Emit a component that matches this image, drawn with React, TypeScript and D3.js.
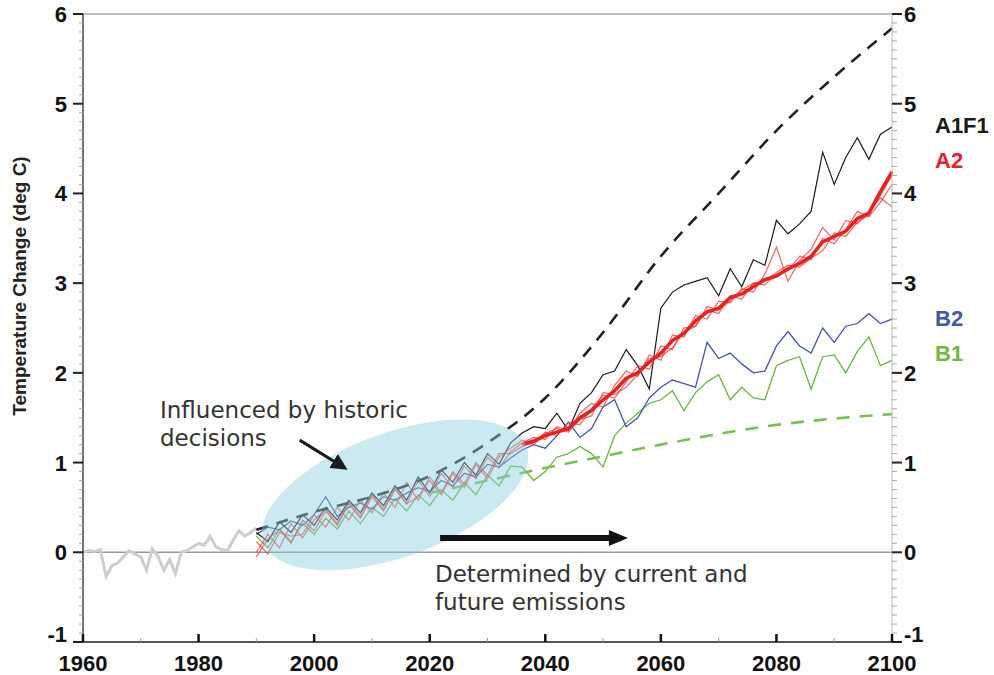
import React from 'react';
import * as d3 from 'd3';

// model years, every 2 years
const years = [
  1990, 1992, 1994, 1996, 1998, 2000, 2002, 2004, 2006, 2008, 2010, 2012, 2014, 2016,
  2018, 2020, 2022, 2024, 2026, 2028, 2030, 2032, 2034, 2036, 2038, 2040, 2042, 2044,
  2046, 2048, 2050, 2052, 2054, 2056, 2058, 2060, 2062, 2064, 2066, 2068, 2070, 2072,
  2074, 2076, 2078, 2080, 2082, 2084, 2086, 2088, 2090, 2092, 2094, 2096, 2098, 2100,
];

// observed record (grey)
const histYears = [
  1960, 1961, 1962, 1963, 1964, 1965, 1966, 1967, 1968, 1969, 1970, 1971, 1972, 1973, 1974, 1975,
  1976, 1977, 1978, 1979, 1980, 1981, 1982, 1983, 1984, 1985, 1986, 1987, 1988, 1989, 1990,
];
const histTemp = [
  0.0, 0.02, 0.01, 0.03, -0.27, -0.15, -0.12, -0.05, 0.02, -0.02, -0.05, -0.2, 0.04, -0.05, -0.2, -0.08,
  -0.24, 0.0, 0.02, 0.06, 0.1, 0.08, 0.18, 0.06, 0.03, 0.02, 0.14, 0.24, 0.18, 0.22, 0.27,
];

const a1f1 = [
  0.22, 0.12, 0.34, 0.22, 0.42, 0.30, 0.50, 0.36, 0.58, 0.44, 0.66, 0.52, 0.74, 0.58, 0.84, 0.66,
  0.92, 0.78, 1.00, 0.86, 1.10, 0.98, 1.22, 1.33, 1.40, 1.38, 1.55, 1.36, 1.66, 1.78, 1.98, 2.02,
  2.26, 2.08, 1.82, 2.72, 2.90, 2.98, 3.02, 3.06, 2.86, 3.16, 2.96, 3.26, 3.20, 3.70, 3.55, 3.66,
  3.80, 4.46, 4.10, 4.40, 4.62, 4.38, 4.66, 4.74,
];

const a2RunA = [
  -0.05, 0.15, 0.25, 0.10, 0.36, 0.24, 0.46, 0.30, 0.54, 0.38, 0.62, 0.46, 0.70, 0.54, 0.80, 0.62,
  0.88, 0.72, 0.96, 0.82, 1.06, 0.94, 1.12, 1.22, 1.28, 1.26, 1.40, 1.36, 1.55, 1.66, 1.62, 1.86,
  2.02, 1.96, 2.20, 2.14, 2.42, 2.40, 2.64, 2.60, 2.80, 2.78, 2.94, 2.90, 3.10, 3.40, 3.02, 3.25,
  3.38, 3.62, 3.48, 3.70, 3.66, 3.80, 3.95, 3.85,
];
const a2RunB = [
  0.12, -0.02, 0.22, 0.18, 0.20, 0.42, 0.28, 0.50, 0.36, 0.58, 0.44, 0.66, 0.50, 0.78, 0.58, 0.84,
  0.66, 0.90, 0.76, 1.00, 0.86, 1.10, 1.10, 1.18, 1.22, 1.34, 1.30, 1.45, 1.42, 1.60, 1.75, 1.72,
  1.90, 2.08, 2.04, 2.30, 2.26, 2.50, 2.52, 2.70, 2.66, 2.86, 2.82, 3.00, 3.02, 3.12, 3.20, 3.18,
  3.28, 3.36, 3.56, 3.52, 3.68, 3.76, 3.98, 4.20,
];
const a2RunC = [
  0.00, 0.20, 0.05, 0.32, 0.16, 0.36, 0.48, 0.32, 0.56, 0.40, 0.64, 0.48, 0.72, 0.54, 0.62, 0.80,
  0.64, 0.88, 0.72, 0.98, 0.82, 1.06, 1.16, 1.25, 1.20, 1.32, 1.38, 1.34, 1.48, 1.52, 1.78, 1.76,
  1.84, 1.98, 2.16, 2.18, 2.28, 2.46, 2.52, 2.74, 2.70, 2.80, 2.92, 3.00, 2.98, 3.10, 3.14, 3.30,
  3.26, 3.50, 3.44, 3.60, 3.80, 3.74, 3.90, 4.10,
];
// A2 ensemble mean, from 2036
const a2Mean = [
  1.20, 1.24, 1.30, 1.34, 1.38, 1.50, 1.58, 1.70, 1.80, 1.94, 2.00, 2.12, 2.22, 2.36, 2.44, 2.58,
  2.68, 2.72, 2.84, 2.88, 2.96, 3.04, 3.08, 3.16, 3.22, 3.30, 3.46, 3.52, 3.58, 3.72, 3.78, 4.02,
  4.24,
];

const b2 = [
  0.20, 0.28, 0.25, 0.35, 0.30, 0.42, 0.62, 0.40, 0.50, 0.55, 0.48, 0.62, 0.58, 0.66, 0.72, 0.68,
  0.80, 0.74, 0.88, 0.84, 0.98, 0.95, 1.05, 1.14, 1.20, 1.16, 1.30, 1.45, 1.28, 1.38, 1.62, 1.70,
  1.40, 1.50, 1.72, 1.84, 1.92, 1.88, 1.84, 2.34, 2.16, 2.22, 2.10, 2.00, 2.02, 2.30, 2.46, 2.30,
  2.22, 2.50, 2.34, 2.52, 2.55, 2.66, 2.55, 2.60,
];
const b1 = [
  0.18, 0.05, 0.26, 0.12, 0.32, 0.20, 0.38, 0.26, 0.46, 0.32, 0.50, 0.40, 0.60, 0.46, 0.64, 0.52,
  0.70, 0.58, 0.78, 0.64, 0.86, 0.74, 0.96, 0.95, 0.80, 0.90, 1.06, 1.10, 1.18, 1.10, 0.95, 1.30,
  1.44, 1.55, 1.66, 1.70, 1.80, 1.58, 1.78, 1.90, 1.98, 1.70, 1.84, 1.72, 1.70, 2.08, 2.14, 2.18,
  1.82, 2.18, 2.20, 2.00, 2.24, 2.40, 2.08, 2.14,
];

// smooth envelope curves (dashed)
const upperYears = [1990, 2000, 2010, 2020, 2030, 2040, 2050, 2060, 2070, 2080, 2090, 2100];
const upperDashed = [0.25, 0.45, 0.62, 0.85, 1.22, 1.72, 2.45, 3.3, 4.0, 4.7, 5.3, 5.84];
const lowerYears = [2020, 2030, 2040, 2050, 2060, 2070, 2080, 2090, 2100];
const lowerDashed = [0.66, 0.8, 0.94, 1.07, 1.2, 1.32, 1.42, 1.49, 1.54];

const yTicks = [-1, 0, 1, 2, 3, 4, 5, 6];
const xTicks = [1960, 1980, 2000, 2020, 2040, 2060, 2080, 2100];
const scenarioLabels = ['A1F1', 'A2', 'B2', 'B1'];

const W = 994;
const H = 675;

export default function App() {
  const x = d3.scaleLinear().domain([1960, 2100]).range([83, 892]);
  const y = d3.scaleLinear().domain([-1, 6]).range([642, 14]);

  const line = (xs: number[], ys: number[]) =>
    d3.line<number>().x((_, i) => x(xs[i])).y((d) => y(d))(ys) || '';
  const smooth = (xs: number[], ys: number[]) =>
    d3.line<number>().x((_, i) => x(xs[i])).y((d) => y(d)).curve(d3.curveMonotoneX)(ys) || '';

  const meanYears = years.filter((yr) => yr >= 2036);
  const minorY = d3.range(-10, 61).map((v) => v / 10).filter((v) => Math.abs(v - Math.round(v)) > 0.01);
  const minorX = [1970, 1990, 2010, 2030, 2050, 2070, 2090];

  const labelFont = { fontFamily: 'Liberation Sans, Arial, sans-serif', fontWeight: 700, fontSize: 22 };
  const noteFont = { fontFamily: 'DejaVu Sans, Verdana, sans-serif', fontSize: 23, fill: '#333' };
  const labelColors = ['#1a1a1a', '#e8202a', '#4656a8', '#72b843'];
  const labelVals = [4.76, 4.37, 2.61, 2.22];

  const ex = x(2014);
  const ey = y(0.64);

  return (
    <svg width={W} height={H} style={{ position: 'absolute', left: 0, top: 0, background: '#fff' }}>
      <defs>
        <marker id="head" viewBox="0 0 10 10" refX="8" refY="5" markerWidth="5.5" markerHeight="5.5" orient="auto">
          <path d="M0,0 L10,5 L0,10 z" fill="#1a1a1a" />
        </marker>
      </defs>

      {/* frame */}
      <line x1={x(1960)} x2={x(2100)} y1={y(6)} y2={y(6)} stroke="#aaa" strokeWidth={1.5} />
      <line x1={x(1960)} x2={x(2100)} y1={y(0)} y2={y(0)} stroke="#9a9a9a" strokeWidth={1.5} />

      {/* historic record */}
      <path d={line(histYears, histTemp)} fill="none" stroke="#cdcdcd" strokeWidth={3} />

      {/* scenario runs */}
      <path d={line(years, b1)} fill="none" stroke="#6cb640" strokeWidth={1.3} />
      <path d={line(years, b2)} fill="none" stroke="#4656a8" strokeWidth={1.3} />
      <path d={line(years, a1f1)} fill="none" stroke="#1a1a1a" strokeWidth={1.2} />
      {[a2RunA, a2RunB, a2RunC].map((run, i) => (
        <path key={i} d={line(years, run)} fill="none" stroke="#ec3030" strokeOpacity={0.75} strokeWidth={1.2} />
      ))}
      <path d={line(meanYears, a2Mean)} fill="none" stroke="#e8201e" strokeWidth={3.5} strokeLinejoin="round" />

      {/* envelopes */}
      <path d={smooth(upperYears, upperDashed)} fill="none" stroke="#222" strokeWidth={2.6} strokeDasharray="12 9" />
      <path d={smooth(lowerYears, lowerDashed)} fill="none" stroke="#78c050" strokeWidth={2.6} strokeDasharray="13 10" />

      {/* historic decisions ellipse */}
      <ellipse cx={ex} cy={ey} rx={140} ry={62} transform={`rotate(-20 ${ex} ${ey})`} fill="#8ccfe0" fillOpacity={0.45} />

      {/* axes */}
      <line x1={x(1960)} x2={x(1960)} y1={y(6)} y2={y(-1)} stroke="#444" strokeWidth={1.5} />
      <line x1={x(2100)} x2={x(2100)} y1={y(6)} y2={y(-1)} stroke="#bbb" strokeWidth={1} />
      <line x1={x(1960) - 2} x2={x(2100) + 1} y1={y(-1)} y2={y(-1)} stroke="#555" strokeWidth={2} />

      {minorY.map((v) => (
        <g key={v}>
          <line x1={x(1960) - 4} x2={x(1960)} y1={y(v)} y2={y(v)} stroke="#aaa" strokeWidth={1} />
          <line x1={x(2100)} x2={x(2100) + 5} y1={y(v)} y2={y(v)} stroke="#aaa" strokeWidth={1} />
        </g>
      ))}
      {yTicks.map((v) => (
        <g key={v} style={labelFont}>
          <line x1={x(1960) - 10} x2={x(1960)} y1={y(v)} y2={y(v)} stroke="#222" strokeWidth={2} />
          <line x1={x(2100)} x2={x(2100) + 10} y1={y(v)} y2={y(v)} stroke="#222" strokeWidth={2} />
          <text x={x(1960) - 16} y={y(v) + (v === -1 ? 0 : 8)} textAnchor="end" fill="#111">{v}</text>
          <text x={x(2100) + 12} y={y(v) + (v === -1 ? 0 : 8)} fill="#111">{v}</text>
        </g>
      ))}
      {minorX.map((v) => (
        <line key={v} x1={x(v)} x2={x(v)} y1={y(-1)} y2={y(-1) - 4} stroke="#999" strokeWidth={1} />
      ))}
      {xTicks.map((v) => (
        <g key={v} style={labelFont}>
          <line x1={x(v)} x2={x(v)} y1={y(-1)} y2={y(-1) - 8} stroke="#111" strokeWidth={2.5} />
          <text x={x(v)} y={671} textAnchor="middle" fill="#111">{v}</text>
        </g>
      ))}

      <text
        transform={`translate(26, 286) rotate(-90)`}
        textAnchor="middle"
        style={{ fontFamily: 'Liberation Sans, Arial, sans-serif', fontWeight: 700, fontSize: 19 }}
        fill="#222"
      >
        Temperature Change (deg C)
      </text>

      {/* scenario labels */}
      {scenarioLabels.map((s, i) => (
        <text key={s} x={935} y={y(labelVals[i]) + 8} style={labelFont} fill={labelColors[i]}>{s}</text>
      ))}

      {/* annotations */}
      <text x={160} y={418} style={noteFont}>Influenced by historic</text>
      <text x={160} y={446} style={noteFont}>decisions</text>
      <line x1={x(1997.5)} y1={y(1.25)} x2={x(2005.3)} y2={y(0.94)} stroke="#1a1a1a" strokeWidth={3} markerEnd="url(#head)" />

      <line x1={x(2021.8)} y1={y(0.16)} x2={x(2052)} y2={y(0.16)} stroke="#111" strokeWidth={6} />
      <path
        d={`M${x(2051)},${y(0.16) - 8} L${x(2054.3)},${y(0.16)} L${x(2051)},${y(0.16) + 8} z`}
        fill="#111"
      />
      <text x={435} y={582} style={noteFont}>Determined by current and</text>
      <text x={435} y={610} style={noteFont}>future emissions</text>
    </svg>
  );
}
